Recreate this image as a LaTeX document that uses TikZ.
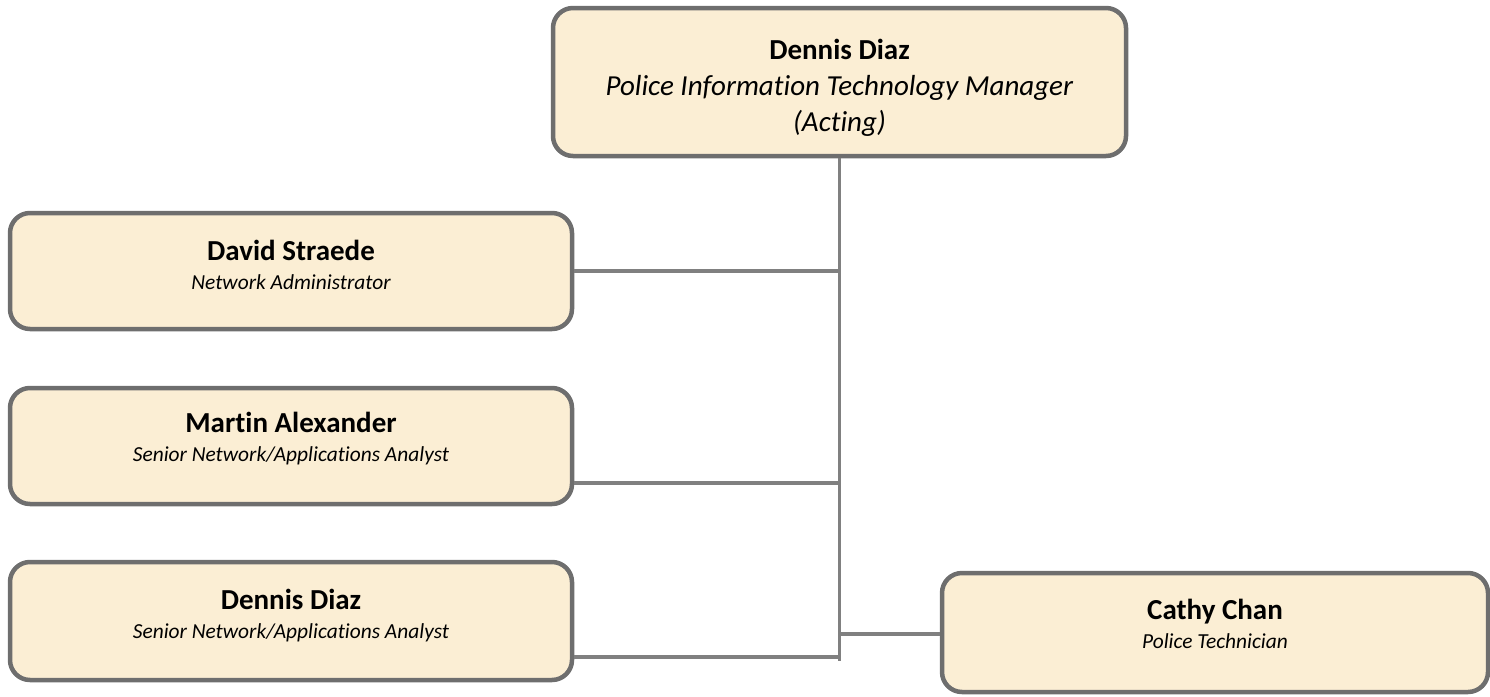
\documentclass[tikz,border=0pt]{standalone}
\usepackage{fontspec}
\setmainfont{Carlito}[RawFeature=-liga]
\usetikzlibrary{calc}
\definecolor{boxfill}{HTML}{FBEED4}
\definecolor{boxline}{HTML}{6E6E6E}
\definecolor{conline}{HTML}{808080}
\tikzset{
  person/.style={draw=boxline, line width=4.5pt, fill=boxfill, rounded corners=20pt,
    inner sep=0pt},
  ptext/.style={align=center, inner sep=0pt, font=\fontsize{21.4}{29}\selectfont},
  conn/.style={draw=conline, line width=3.5pt},
}
\newcommand{\pname}[1]{{\fontsize{29}{29}\selectfont\bfseries #1}}
\newcommand{\prole}[1]{{\itshape #1}}
\begin{document}
\begin{tikzpicture}[x=1pt,y=-1pt]
\useasboundingbox (0,0) rectangle (1490,696);
\node[person, minimum width=573pt, minimum height=148pt] (top) at (839.5,82) {};
\node[ptext, font=\fontsize{29}{36}\selectfont] (topt) at ($(top)+(0,6)$)
  {\textbf{Dennis Diaz}\\
   \textit{Police Information Technology Manager}\\
   \textit{(Acting)}};
\node[person, minimum width=562pt, minimum height=116pt] (b1) at (291,271) {};
\node[ptext] (b1t) at ($(b1)+(0,-6)$)
  {\pname{David Straede}\\ \prole{Network Administrator}};
\node[person, minimum width=562pt, minimum height=116pt] (b2) at (291,446) {};
\node[ptext] (b2t) at ($(b2)+(0,-7)$)
  {\pname{Martin Alexander}\\ \prole{Senior Network/Applications Analyst}};
\node[person, minimum width=562pt, minimum height=118pt] (b3) at (291,621) {};
\node[ptext] (b3t) at ($(b3)+(0,-5)$)
  {\pname{Dennis Diaz}\\ \prole{Senior Network/Applications Analyst}};
\node[person, minimum width=546pt, minimum height=119pt] (b4) at (1215,632.5) {};
\node[ptext] (b4t) at ($(b4)+(0,-9)$)
  {\pname{Cathy Chan}\\ \prole{Police Technician}};
\coordinate (trunkend) at (839.5,661);
\coordinate (j2) at (839.5,483);
\coordinate (j3) at (839.5,657);
\coordinate (j4) at (839.5,634);
\draw[conn] (top.south) -- (trunkend);
\draw[conn] (b1.east) -- (b1.east -| trunkend);
\draw[conn] (b2.east |- j2) -- (j2);
\draw[conn] (b3.east |- j3) -- (j3);
\draw[conn] (j4) -- (b4.west |- j4);
\end{tikzpicture}
\end{document}
